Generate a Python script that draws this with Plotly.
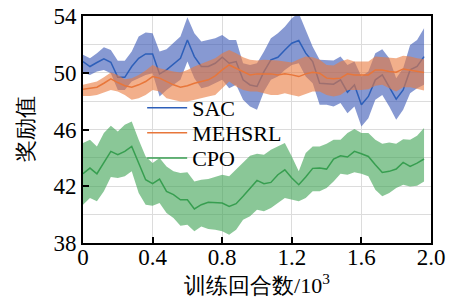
import plotly.graph_objects as go

episodes = [round(i * 0.04, 2) for i in range(50)]

sac_mean = [50.79, 50.44, 50.72, 50.98, 50.74, 49.68, 49.68, 50.44, 51.02, 51.33,
            51.33, 49.92, 50.20, 50.62, 51.02, 52.31, 51.14, 50.44, 50.44, 50.67,
            51.09, 50.67, 50.79, 49.50, 49.14, 49.03, 50.08, 50.91, 51.09, 51.61,
            52.08, 52.27, 51.38, 50.79, 49.26, 49.22, 49.19, 49.50, 48.63, 49.14,
            47.74, 48.33, 49.50, 49.85, 49.03, 48.14, 48.79, 50.20, 50.44, 51.14]
sac_upper = [51.26, 51.02, 51.38, 51.80, 51.61, 50.84, 50.84, 51.49, 52.55, 52.83,
             52.78, 51.49, 51.66, 52.08, 52.55, 53.91, 52.78, 52.20, 52.31, 52.43,
             52.66, 52.31, 52.31, 50.67, 50.55, 50.67, 51.49, 52.43, 52.78, 53.25,
             53.84, 54.20, 53.02, 51.84, 50.91, 50.91, 50.86, 51.14, 50.55, 50.79,
             49.73, 50.08, 51.38, 51.66, 51.02, 49.61, 50.32, 51.96, 52.31, 53.14]
sac_lower = [50.01, 49.85, 50.09, 50.20, 49.97, 48.79, 48.79, 49.38, 49.62, 49.85,
             49.97, 48.33, 48.79, 49.15, 49.50, 50.79, 49.62, 48.91, 49.03, 49.26,
             49.50, 48.91, 49.15, 48.09, 47.62, 47.39, 48.68, 49.50, 49.73, 50.20,
             50.55, 50.67, 49.73, 49.26, 47.74, 47.74, 47.62, 47.86, 47.15, 47.62,
             46.22, 46.80, 48.09, 48.44, 47.62, 46.68, 47.39, 48.56, 48.91, 49.15]

meh_mean = [48.84, 48.91, 48.98, 49.26, 49.57, 49.31, 49.08, 48.98, 49.15, 49.38,
            49.73, 49.62, 49.38, 49.15, 48.98, 49.08, 49.26, 49.38, 49.50, 49.78,
            50.20, 50.55, 50.32, 50.09, 49.85, 49.92, 49.92, 49.92, 49.85, 49.92,
            49.85, 49.73, 49.92, 50.04, 49.97, 49.62, 49.57, 49.62, 49.92, 49.85,
            49.85, 49.85, 50.20, 50.20, 50.09, 50.04, 50.27, 50.20, 50.09, 50.02]
meh_upper = [49.15, 49.26, 49.38, 49.69, 50.02, 49.85, 49.55, 49.62, 49.85, 50.16,
             50.55, 50.32, 50.20, 50.09, 50.02, 50.20, 50.44, 50.63, 50.79, 51.02,
             51.38, 51.61, 51.38, 51.09, 50.91, 50.86, 50.91, 50.91, 50.86, 50.79,
             50.72, 50.95, 51.14, 51.09, 50.91, 50.55, 50.51, 50.79, 50.95, 50.79,
             50.79, 50.79, 51.14, 51.09, 51.02, 51.02, 51.19, 51.14, 51.02, 50.95]
meh_lower = [48.37, 48.37, 48.44, 48.61, 48.79, 48.68, 48.44, 48.09, 48.21, 48.44,
             48.79, 48.68, 48.21, 48.09, 47.97, 47.97, 48.09, 48.21, 48.33, 48.44,
             48.91, 49.38, 49.03, 48.79, 48.68, 48.68, 48.56, 48.44, 48.44, 48.56,
             48.44, 48.33, 48.51, 48.68, 48.68, 48.44, 48.33, 48.44, 48.79, 48.79,
             48.79, 48.84, 49.08, 49.15, 48.91, 48.68, 48.98, 48.98, 48.84, 48.75]

cpo_mean = [42.88, 43.28, 42.88, 43.63, 44.46, 44.22, 44.46, 44.81, 43.63, 42.46,
            42.18, 42.51, 41.64, 41.41, 41.05, 41.05, 40.40, 40.70, 40.87, 40.87,
            40.82, 40.58, 40.77, 41.29, 41.88, 42.41, 42.18, 42.27, 42.81, 43.16,
            42.58, 42.11, 42.65, 43.26, 43.28, 43.21, 43.92, 44.15, 44.06, 44.46,
            44.29, 44.10, 43.52, 42.97, 43.05, 43.21, 43.68, 43.40, 43.63, 43.92]
cpo_upper = [45.04, 45.28, 44.81, 45.75, 46.26, 45.86, 46.33, 46.57, 45.28, 44.10,
             43.63, 43.99, 43.40, 43.05, 42.93, 42.98, 42.34, 42.46, 42.51, 42.65,
             42.81, 42.70, 43.16, 43.63, 44.15, 44.29, 44.22, 44.57, 44.81, 45.04,
             44.10, 43.05, 44.34, 44.81, 44.81, 44.99, 45.28, 45.28, 45.75, 46.03,
             45.75, 45.75, 45.28, 44.99, 45.09, 44.99, 45.32, 45.28, 45.56, 46.10]
cpo_lower = [40.70, 41.17, 40.94, 41.64, 42.65, 42.58, 42.70, 43.05, 41.52, 40.70,
             40.63, 40.82, 40.11, 39.76, 39.22, 39.29, 38.82, 39.17, 38.99, 38.94,
             38.82, 38.59, 38.94, 39.64, 39.88, 40.35, 40.23, 40.47, 40.82, 41.17,
             41.05, 40.94, 41.17, 41.64, 41.64, 41.88, 42.34, 42.88, 42.81, 42.98,
             42.88, 42.70, 41.76, 41.29, 41.52, 41.88, 42.11, 41.99, 42.04, 42.34]

x_ticks = [0, 0.4, 0.8, 1.2, 1.6, 2.0]
x_tick_labels = ["0", "0.4", "0.8", "1.2", "1.6", "2.0"]
y_ticks = [38, 42, 46, 50, 54]
y_minor = [40, 44, 48, 52]

series = [
    ("SAC", sac_mean, sac_upper, sac_lower, "rgb(45,95,185)", "rgba(55,85,180,0.6)", "legend"),
    ("MEHSRL", meh_mean, meh_upper, meh_lower, "rgb(232,118,58)", "rgba(234,122,62,0.6)", "legend2"),
    ("CPO", cpo_mean, cpo_upper, cpo_lower, "rgb(55,158,80)", "rgba(60,162,82,0.6)", "legend3"),
]

fig = go.Figure()
for name, mean, up, lo, lc, fc, lg in series:
    fig.add_trace(go.Scatter(
        x=episodes + episodes[::-1], y=up + lo[::-1],
        fill="toself", fillcolor=fc, line=dict(width=0),
        mode="lines", hoverinfo="skip", showlegend=False))
    fig.add_trace(go.Scatter(
        x=episodes, y=mean, mode="lines", name=name, legend=lg,
        line=dict(color=lc, width=1.5)))

serif = "Liberation Serif"
FS = 23

def leg(yc):
    return dict(x=0.17, y=yc, xanchor="left", yanchor="middle",
                bgcolor="rgba(0,0,0,0)", borderwidth=0,
                font=dict(family=serif, size=22), itemwidth=40)

fig.update_layout(
    template="none",
    width=451, height=302,
    margin=dict(l=83, r=20, t=16, b=59, autoexpand=False),
    paper_bgcolor="white", plot_bgcolor="white",
    font=dict(family=serif, size=FS, color="black"),
    showlegend=True,
    legend=leg(0.595), legend2=leg(0.485), legend3=leg(0.374),
)
fig.update_xaxes(
    automargin=False,
    range=[0, 2.0], tickvals=x_ticks, ticktext=x_tick_labels,
    ticks="inside", ticklen=6, tickwidth=1.5, tickcolor="black",
    showline=True, linecolor="black", linewidth=2, mirror=True,
    showgrid=True, gridcolor="#dcdcdc", gridwidth=1.3, zeroline=False,
    ticklabelstandoff=-8,
    title=dict(text="训练回合数/10<sup>3</sup>", font=dict(family=serif, size=22), standoff=0),
    tickfont=dict(family=serif, size=FS),
)
fig.update_yaxes(
    automargin=False,
    range=[38, 54], tickvals=y_ticks,
    ticks="inside", ticklen=6, tickwidth=1.5, tickcolor="black",
    showline=True, linecolor="black", linewidth=2, mirror=True,
    showgrid=True, gridcolor="#dcdcdc", gridwidth=1.3, zeroline=False,
    minor=dict(tickvals=y_minor, showgrid=True, gridcolor="#dcdcdc", gridwidth=1.3, ticks=""),
    title=dict(text="奖励值", font=dict(family=serif, size=22), standoff=14),
    tickfont=dict(family=serif, size=FS),
)

fig.write_html("out.html", config={"displayModeBar": False},
               post_script="document.body.style.margin='0';")
